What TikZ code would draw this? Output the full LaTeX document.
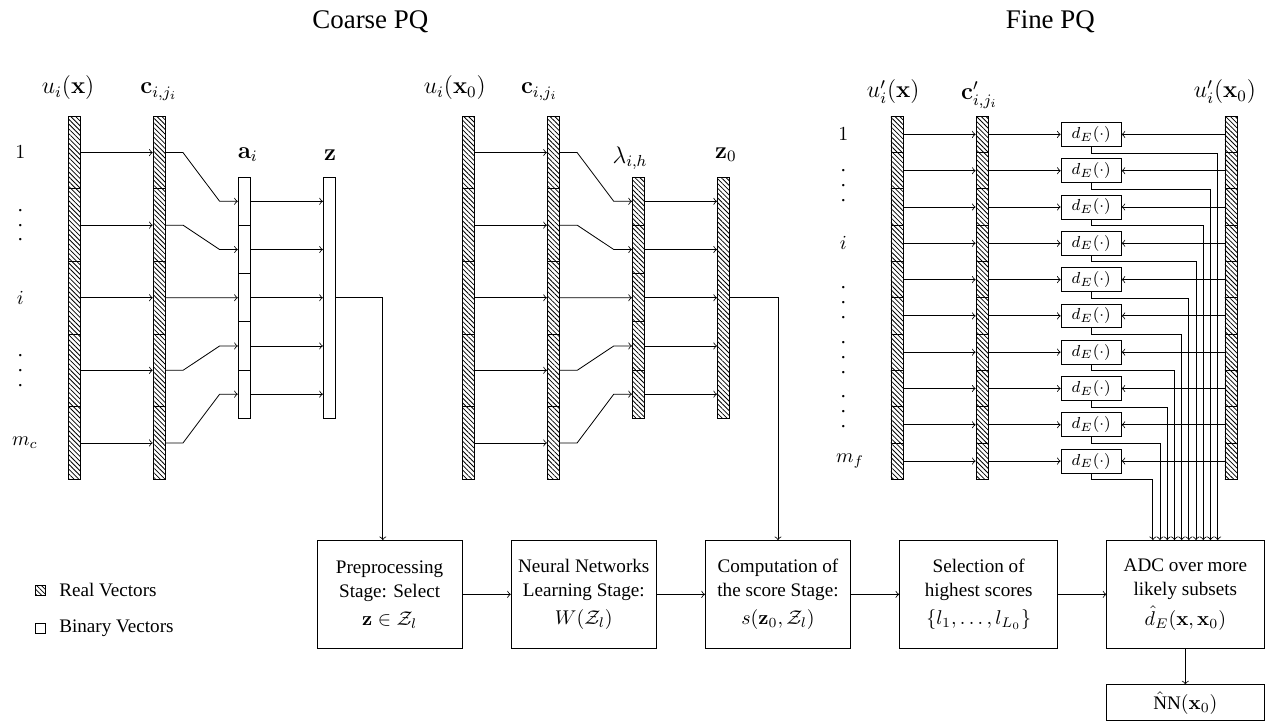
\documentclass[tikz,border=0pt]{standalone}
\usepackage{amsmath}
\usepackage{amssymb}
\usepackage[no-math]{fontspec}
\setmainfont{Liberation Serif}
\usetikzlibrary{positioning,patterns.meta}

\newcommand{\rowdots}{\vbox{\baselineskip=7.5pt\lineskiplimit=0pt\hbox{.}\hbox{.}\hbox{.}}}

\tikzset{
  seg/.style={draw, inner sep=0pt, minimum width=0.22cm},
  realbar/.style={seg, pattern={Lines[angle=-45, distance=1.7pt, line width=0.4pt]}},
  binbar/.style={seg, fill=white},
  colname/.style={font=\large},
  stagebox/.style={draw, align=center, minimum width=2.56cm, minimum height=1.9cm, font=\fontsize{9.6}{12}\selectfont},
  distbox/.style={draw, inner sep=1pt, minimum width=1.06cm, minimum height=0.42cm, font=\footnotesize},
  keytext/.style={font=\fontsize{9.6}{12}\selectfont},
}

\begin{document}
\begin{tikzpicture}[>=to, node distance=0.85cm]
\useasboundingbox (0,0) rectangle (22.5,-12.72);

% titles
\node[font=\fontsize{13.5}{16}\selectfont] (coarse) at (6.53,-0.39) {Coarse PQ};
\node[font=\fontsize{13.5}{16}\selectfont] (fine) at (18.52,-0.39) {Fine PQ};

% coarse PQ columns
\foreach \k in {1,...,5} {
  \pgfmathsetmacro{\yr}{-2.69-1.28*(\k-1)}
  \pgfmathsetmacro{\ya}{-3.55-0.85*(\k-1)}
  \node[realbar, minimum height=1.28cm] (ux\k) at (1.31,\yr) {};
  \node[realbar, minimum height=1.28cm] (cx\k) at (2.81,\yr) {};
  \node[binbar, minimum height=0.85cm] (ax\k) at (4.31,\ya) {};
  \node[realbar, minimum height=1.28cm] (uo\k) at (8.26,\yr) {};
  \node[realbar, minimum height=1.28cm] (co\k) at (9.76,\yr) {};
  \node[realbar, minimum height=0.85cm] (lam\k) at (11.26,\ya) {};
}
\node[binbar, minimum height=4.25cm] (zc) at (5.81,-5.25) {};
\node[realbar, minimum height=4.25cm] (zo) at (12.76,-5.25) {};

\node[colname] (uxname) at (1.20,-1.55) {$u_i(\mathbf{x})$};
\node[colname] (cxname) at (2.80,-1.62) {$\mathbf{c}_{i,j_i}$};
\node[colname] (axname) at (4.37,-2.73) {$\mathbf{a}_i$};
\node[colname] (zcname) at (5.82,-2.73) {$\mathbf{z}$};
\node[colname] (uoname) at (8.02,-1.55) {$u_i(\mathbf{x}_0)$};
\node[colname] (coname) at (9.51,-1.62) {$\mathbf{c}_{i,j_i}$};
\node[colname] (lamname) at (11.11,-2.79) {$\lambda_{i,h}$};
\node[colname] (zoname) at (12.80,-2.73) {$\mathbf{z}_0$};

\node (r1) at (0.36,-2.69) {$1$};
\node (rd1) at (0.36,-3.97) {\rowdots};
\node (ri) at (0.36,-5.25) {$i$};
\node (rd2) at (0.36,-6.53) {\rowdots};
\node (rmc) at (0.44,-7.81) {$m_c$};

\foreach \k in {1,...,5} {
  \draw[->] (ux\k) -- (cx\k);
  \draw[->] (cx\k.east) -- ++(0.3,0) -- ([xshift=-0.32cm]ax\k.west) -- (ax\k.west);
  \draw[->] (ax\k) -- (ax\k -| zc.west);
  \draw[->] (uo\k) -- (co\k);
  \draw[->] (co\k.east) -- ++(0.3,0) -- ([xshift=-0.32cm]lam\k.west) -- (lam\k.west);
  \draw[->] (lam\k) -- (lam\k -| zo.west);
}

% fine PQ columns
\foreach \k in {1,...,10} {
  \pgfmathsetmacro{\yf}{-2.37-0.64*(\k-1)}
  \node[realbar, minimum height=0.64cm] (fx\k) at (15.82,\yf) {};
  \node[realbar, minimum height=0.64cm] (fc\k) at (17.32,\yf) {};
  \node[distbox] (de\k) at (19.24,\yf) {$d_E(\cdot)$};
  \node[realbar, minimum height=0.64cm] (fo\k) at (21.71,\yf) {};
}

\node[colname] (fxname) at (15.75,-1.62) {$u'_i(\mathbf{x})$};
\node[colname] (fcname) at (17.27,-1.68) {$\mathbf{c}'_{i,j_i}$};
\node[colname] (foname) at (21.60,-1.62) {$u'_i(\mathbf{x}_0)$};

\node (f1) at (14.87,-2.37) {$1$};
\node (fd1) at (14.87,-3.28) {\rowdots};
\node (fi) at (14.87,-4.29) {$i$};
\node (fd2) at (14.87,-5.33) {\rowdots};
\node (fd3) at (14.87,-6.30) {\rowdots};
\node (fd4) at (14.87,-7.25) {\rowdots};
\node (fmf) at (14.99,-8.13) {$m_f$};

% stages
\node[stagebox] (pre) at (6.87,-10.48) {Preprocessing\\Stage: Select\\[2pt]$\mathbf{z}\in\mathcal{Z}_l$};
\node[stagebox, right=of pre] (nnl) {Neural Networks\\Learning Stage:\\[2pt]$W(\mathcal{Z}_l)$};
\node[stagebox, right=of nnl] (score) {Computation of\\the score Stage:\\[2pt]$s(\mathbf{z}_0,\mathcal{Z}_l)$};
\node[stagebox, right=of score, minimum width=2.79cm] (sel) {Selection of\\highest scores\\[2pt]$\{l_1,\ldots,l_{L_0}\}$};
\node[stagebox, right=of sel, minimum width=2.77cm] (adc) {ADC over more\\likely subsets\\[3pt]$\hat{d}_E(\mathbf{x},\mathbf{x}_0)$};
\node[draw, below=0.63cm of adc, minimum width=2.77cm, minimum height=0.63cm, keytext] (nnx) {$\hat{\text{N}}\text{N}(\mathbf{x}_0)$};

\draw[->] (zc.east) -| ([xshift=-0.12cm]pre.north);
\draw[->] (zo.east) -| (score.north);
\draw[->] (pre) -- (nnl);
\draw[->] (nnl) -- (score);
\draw[->] (score) -- (sel);
\draw[->] (sel) -- (adc);
\draw[->] (adc) -- (nnx);

\foreach \k in {1,...,10} {
  \pgfmathsetmacro{\dx}{0.57-0.127*(\k-1)}
  \draw[->] (fx\k) -- (fc\k);
  \draw[->] (fc\k) -- (de\k);
  \draw[->] (fo\k) -- (de\k);
  \draw[->] (de\k.south) -- ++(0,-0.11) -| ([xshift=\dx cm]adc.north);
}

% legend
\node[realbar, minimum width=0.17cm, minimum height=0.17cm] (realkey) at (0.71,-10.41) {};
\node[keytext, right=0.12cm of realkey] (realtxt) {Real Vectors};
\node[binbar, minimum width=0.17cm, minimum height=0.17cm] (binkey) at (0.71,-11.08) {};
\node[keytext, right=0.12cm of binkey] (bintxt) {Binary Vectors};
\end{tikzpicture}
\end{document}
